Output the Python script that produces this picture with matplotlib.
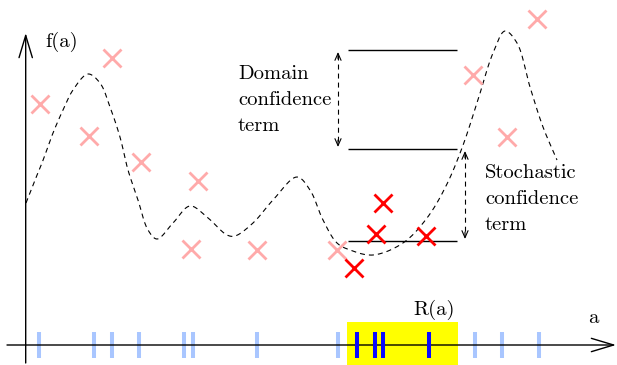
import numpy as np
import matplotlib
matplotlib.use("Agg")
import matplotlib.pyplot as plt
from matplotlib.patches import Rectangle

plt.rcParams['lines.scale_dashes'] = False
FONT = 'cmr10'

# ---- data (pixel-space units) ----
curve_x = [26, 35, 42, 53, 63, 73, 88, 100, 110, 120, 128, 138, 148, 157, 173, 190,
           207, 227, 235, 253, 273, 297, 310, 323, 337, 350, 373, 403, 427, 446, 462,
           477, 493, 505, 517, 530, 543, 557]
curve_y = [203, 180, 163, 133, 110, 90, 74, 83, 107, 137, 170, 200, 230, 239, 223, 206,
           217, 235, 236, 223, 200, 177, 190, 220, 243, 250, 255, 243, 218, 186, 148,
           103, 53, 31, 43, 87, 127, 160]

sample_x = [40, 89, 112, 141, 198, 191, 257, 337, 473, 507, 537]
sample_y = [104, 136, 58, 162, 181, 249, 250, 250, 75, 137, 19]

region_x = [383, 376, 426, 354]
region_y = [203, 234, 236, 268]

tick_light = [39, 94, 112, 139, 184, 193, 257, 338, 475, 502, 539]
tick_dark = [357, 375, 383, 429]

levels = [50, 149, 241]          # top, middle, bottom horizontal lines
level_x = (348, 457)
region_span = (347, 458)

# ---- figure ----
fig = plt.figure(figsize=(6.17, 3.65), dpi=100)
ax = fig.add_axes([0, 0, 1, 1])
ax.set_xlim(0, 617)
ax.set_ylim(365, 0)
ax.axis('off')

# highlighted region R(a)
ax.add_patch(Rectangle((region_span[0], 322), region_span[1] - region_span[0], 50,
                       facecolor='#ffff00', edgecolor='none', zorder=0))

# sample ticks on the a-axis
ax.vlines(tick_light, 332, 358, colors='#a9c6ff', lw=2.9, zorder=1)
ax.vlines(tick_dark, 332, 358, colors='#0a0aff', lw=2.9, zorder=3)

# axes with open arrow heads
axis_arrow = dict(arrowstyle='->,head_length=16,head_width=4.8', lw=1.0, color='black',
                  mutation_scale=1, shrinkA=0, shrinkB=0)
ax.annotate('', xy=(616, 345), xytext=(7, 345), arrowprops=axis_arrow, zorder=2)
ax.annotate('', xy=(25.7, 33), xytext=(25.7, 363), arrowprops=axis_arrow, zorder=2)

# smooth dashed curve (centripetal Catmull-Rom through the read knots)
P = np.column_stack([curve_x, curve_y]).astype(float)
P = np.vstack([2 * P[0] - P[1], P, 2 * P[-1] - P[-2]])
xs, ys = [], []
for i in range(1, len(P) - 2):
    p0, p1, p2, p3 = P[i - 1], P[i], P[i + 1], P[i + 2]
    t0 = 0.0
    t1 = t0 + np.linalg.norm(p1 - p0) ** 0.5
    t2 = t1 + np.linalg.norm(p2 - p1) ** 0.5
    t3 = t2 + np.linalg.norm(p3 - p2) ** 0.5
    t = np.linspace(t1, t2, 14, endpoint=False)[:, None]
    A1 = (t1 - t) / (t1 - t0) * p0 + (t - t0) / (t1 - t0) * p1
    A2 = (t2 - t) / (t2 - t1) * p1 + (t - t1) / (t2 - t1) * p2
    A3 = (t3 - t) / (t3 - t2) * p2 + (t - t2) / (t3 - t2) * p3
    B1 = (t2 - t) / (t2 - t0) * A1 + (t - t0) / (t2 - t0) * A2
    B2 = (t3 - t) / (t3 - t1) * A2 + (t - t1) / (t3 - t1) * A3
    C = (t2 - t) / (t2 - t1) * B1 + (t - t1) / (t2 - t1) * B2
    xs.extend(C[:, 0]); ys.extend(C[:, 1])
xs.append(curve_x[-1]); ys.append(curve_y[-1])
ax.plot(xs, ys, color='black', lw=0.8, dashes=(3.6, 2.9), zorder=4)

# samples
ax.plot(sample_x, sample_y, 'x', ms=13, mew=2.0, color='#ffaaaa', zorder=5)
ax.plot(region_x, region_y, 'x', ms=13, mew=2.0, color='#ff0000', zorder=6)

# horizontal level lines
ax.hlines(levels, level_x[0], level_x[1], colors='black', lw=1.0, zorder=4)

# dashed double arrows
def dbl_arrow(x, y0, y1):
    ax.plot([x, x], [y0 + 3, y1 - 3], color='black', lw=0.8, dashes=(3.6, 2.9), zorder=4)
    head = dict(arrowstyle='->,head_length=5,head_width=2.2', lw=0.8, color='black',
                mutation_scale=1, shrinkA=0, shrinkB=0)
    ax.annotate('', xy=(x, y0), xytext=(x, y0 + 7), arrowprops=head, zorder=4)
    ax.annotate('', xy=(x, y1), xytext=(x, y1 - 7), arrowprops=head, zorder=4)

dbl_arrow(338, levels[0] + 2, levels[1] - 2)
dbl_arrow(465, levels[1] + 2, levels[2] - 2)

# labels
fs = 14.8
ax.text(45, 47, 'f(a)', fontsize=fs, family=FONT, va='baseline', ha='left')
ax.text(588, 323, 'a', fontsize=fs, family=FONT, va='baseline', ha='left')
ax.text(413, 315, 'R(a)', fontsize=fs, family=FONT, va='baseline', ha='left')
for txt, yb in zip(['Domain', 'confidence', 'term'], [79, 105, 131]):
    ax.text(238, yb, txt, fontsize=fs, family=FONT, va='baseline', ha='left')
for txt, yb in zip(['Stochastic', 'confidence', 'term'], [178, 204, 230]):
    ax.text(485, yb, txt, fontsize=fs, family=FONT, va='baseline', ha='left')

fig.savefig('out.png', dpi=100)
